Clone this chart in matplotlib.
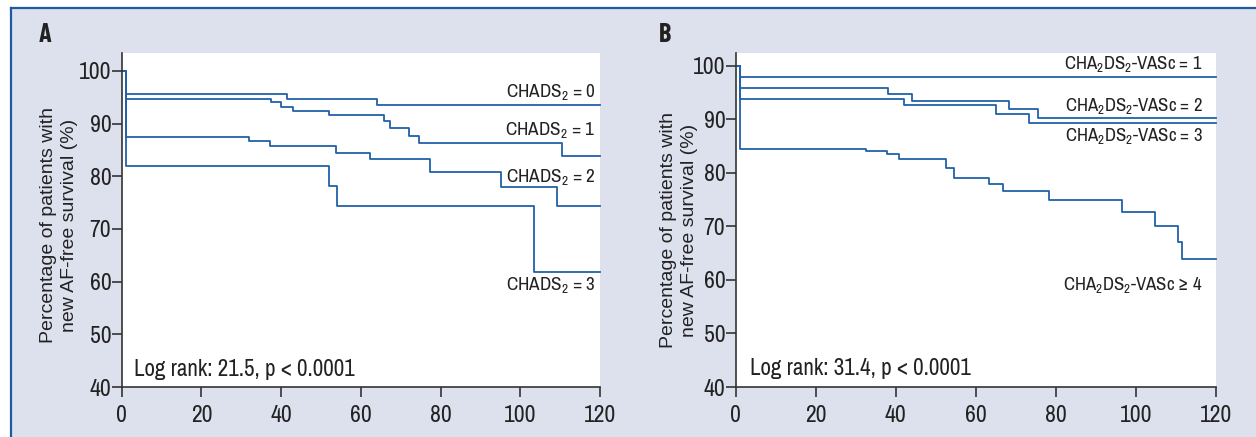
import matplotlib
matplotlib.use("Agg")
import matplotlib.pyplot as plt
from matplotlib.lines import Line2D
from matplotlib.patches import Rectangle
from matplotlib import font_manager

# ---------------- data ----------------
x_ticks = [0, 20, 40, 60, 80, 100, 120]
y_ticks = [40, 50, 60, 70, 80, 90, 100]

# Panel A: CHADS2
a0_t = [0, 1, 41.4, 64.1, 120]
a0_s = [100, 95.7, 94.6, 93.5, 93.5]
a1_t = [0, 1, 37.5, 39.9, 43.1, 51.9, 65.9, 67.3, 72.1, 74.6, 110.4, 120]
a1_s = [100, 94.6, 94.05, 93.2, 92.4, 91.6, 90.5, 89.1, 87.7, 86.4, 83.9, 83.9]
a2_t = [0, 1, 32.0, 37.2, 53.8, 62.3, 77.3, 95.2, 109.2, 120]
a2_s = [100, 87.5, 86.7, 85.8, 84.4, 83.2, 80.9, 77.9, 74.4, 74.4]
a3_t = [0, 1, 51.9, 54.1, 103.5, 120]
a3_s = [100, 82.0, 78.2, 74.4, 61.8, 61.8]
a_labels = ["CHADS$_2$ = 0", "CHADS$_2$ = 1", "CHADS$_2$ = 2", "CHADS$_2$ = 3"]
a_label_y = [96.0, 88.7, 79.9, 59.4]
a_stat = "Log rank: 21.5, p < 0.0001"

# Panel B: CHA2DS2-VASc
b1_t = [0, 1, 120]
b1_s = [100, 97.9, 97.9]
b2_t = [0, 1, 38.0, 44.0, 68.2, 75.5, 120]
b2_s = [100, 95.8, 94.8, 93.5, 91.9, 90.2, 90.2]
b3_t = [0, 1, 42.1, 65.0, 73.2, 120]
b3_s = [100, 93.8, 92.7, 91.0, 89.4, 89.4]
b4_t = [0, 1, 32.6, 37.7, 40.7, 52.5, 54.6, 63.2, 66.9, 78.3, 96.5, 104.8, 110.5, 111.5, 120]
b4_s = [100, 84.5, 84.0, 83.5, 82.6, 81.0, 79.1, 78.0, 76.6, 74.9, 72.7, 70.1, 67.0, 64.0, 64.0]
b_labels = ["CHA$_2$DS$_2$-VASc = 1", "CHA$_2$DS$_2$-VASc = 2",
            "CHA$_2$DS$_2$-VASc = 3", "CHA$_2$DS$_2$-VASc \u2265 4"]
b_label_y = [100.3, 92.5, 86.9, 59.0]
b_stat = "Log rank: 31.4, p < 0.0001"

ylabel = "Percentage of patients with\nnew AF-free survival (%)"

# ---------------- style ----------------
names = {f.name for f in font_manager.fontManager.ttflist}
if "Archivo Narrow" in names:
    narrow, k = "Archivo Narrow", 1.0
else:
    narrow, k = "Liberation Sans", 0.84
bold_font = "Barlow Condensed" if "Barlow Condensed" in names else "Liberation Sans"

plt.rcParams["font.family"] = [narrow, "DejaVu Sans"]
plt.rcParams["mathtext.fontset"] = "custom"
plt.rcParams["mathtext.rm"] = narrow
plt.rcParams["mathtext.it"] = narrow
plt.rcParams["mathtext.bf"] = narrow

BG = "#dde1ee"
LINE = "#2161a8"
BORDER = "#1d5aa0"
DARK = "#333333"
TXT = "#222222"

fig = plt.figure(figsize=(12.56, 4.37), dpi=100, facecolor=BG)

# white margins and blue frame lines
fig.patches.append(Rectangle((0, 1 - 8 / 437), 1, 8 / 437, transform=fig.transFigure,
                             facecolor="white", edgecolor="none", zorder=0))
fig.patches.append(Rectangle((0, 0), 11 / 1256, 1, transform=fig.transFigure,
                             facecolor="white", edgecolor="none", zorder=0))
fig.add_artist(Line2D([11 / 1256, 1], [1 - 8 / 437, 1 - 8 / 437], transform=fig.transFigure,
                      color=BORDER, lw=1.6))
fig.add_artist(Line2D([11 / 1256, 11 / 1256], [0, 1 - 8 / 437], transform=fig.transFigure,
                      color=BORDER, lw=1.6))

axA = fig.add_axes([121.7 / 1256, 50 / 437, 478.3 / 1256, 334 / 437])
axB = fig.add_axes([735.7 / 1256, 50 / 437, 480.1 / 1256, 334 / 437])


def style(ax, ytop, lab_x, lab_y):
    ax.set_facecolor("white")
    ax.set_xlim(0, 120)
    ax.set_ylim(40, ytop)
    ax.set_xticks(x_ticks)
    ax.set_yticks(y_ticks)
    for s in ("top", "right"):
        ax.spines[s].set_visible(False)
    for s in ("left", "bottom"):
        ax.spines[s].set_color(DARK)
        ax.spines[s].set_linewidth(1.2)
    ax.tick_params(axis="both", direction="out", length=7, width=1.2, color=DARK,
                   labelsize=17 * k, labelcolor=TXT)
    ax.tick_params(axis="y", pad=0.5)
    ax.tick_params(axis="x", pad=6)
    ax.set_ylabel(ylabel, fontsize=14, family=["Liberation Sans", "DejaVu Sans"],
                  color=TXT, linespacing=1.3)
    ax.yaxis.set_label_coords(lab_x, lab_y)


style(axA, 103.4, -0.091, 0.485)
style(axB, 102.4, -0.079, 0.47)

for t, s in [(a0_t, a0_s), (a1_t, a1_s), (a2_t, a2_s), (a3_t, a3_s)]:
    axA.step(t, s, where="post", color=LINE, lw=1.3, clip_on=False)
for t, s in [(b1_t, b1_s), (b2_t, b2_s), (b3_t, b3_s), (b4_t, b4_s)]:
    axB.step(t, s, where="post", color=LINE, lw=1.3, clip_on=False)

for lab, y in zip(a_labels, a_label_y):
    axA.text(118.9, y, lab, ha="right", va="center", fontsize=13.8 * k, color=TXT)
for lab, y in zip(b_labels, b_label_y):
    axB.text(116.7, y, lab, ha="right", va="center", fontsize=13.5 * k, color=TXT)

axA.text(3.0, 43.4, a_stat, ha="left", va="center", fontsize=16.6 * k, color=TXT)
axB.text(3.5, 43.5, b_stat, ha="left", va="center", fontsize=16.6 * k, color=TXT)

fig.text(45.5 / 1256, 1 - 35.5 / 437, "A", ha="center", va="center", fontsize=19,
         family=bold_font, fontweight="bold", color=TXT)
fig.text(665 / 1256, 1 - 35.5 / 437, "B", ha="center", va="center", fontsize=19,
         family=bold_font, fontweight="bold", color=TXT)

fig.savefig("out.png", dpi=100, facecolor=BG)
